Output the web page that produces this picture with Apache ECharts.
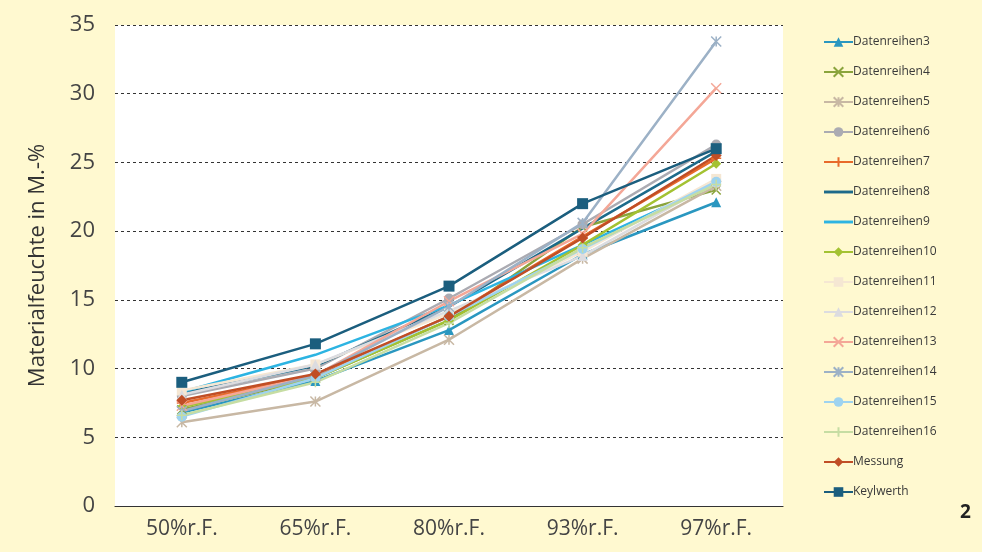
<!DOCTYPE html>
<html>
<head>
<meta charset="utf-8">
<script src="https://cdn.jsdelivr.net/npm/echarts@6/dist/echarts.min.js"></script>
<style>
  html, body { margin: 0; padding: 0; background: #FFF9D0; }
  #chart { width: 982px; height: 552px; }
</style>
</head>
<body>
<div id="chart"></div>
<script>
// Relative humidity steps (x axis)
const categories = ['50%r.F.', '65%r.F.', '80%r.F.', '93%r.F.', '97%r.F.'];

// Moisture content in M.-% for each series
const d3  = [6.8, 9.1, 12.8, 18.3, 22.1];
const d4  = [7.0, 9.3, 13.5, 20.3, 23.0];
const d5  = [6.1, 7.6, 12.1, 18.0, 23.3];
const d6  = [8.0, 10.0, 15.1, 20.5, 26.3];
const d7  = [7.5, 9.5, 13.8, 19.6, 25.3];
const d8  = [8.2, 10.2, 14.5, 20.2, 25.8];
const d9  = [8.3, 11.0, 14.6, 19.0, 23.5];
const d10 = [7.2, 9.3, 13.5, 19.0, 24.9];
const d11 = [8.4, 10.3, 14.0, 18.5, 23.8];
const d12 = [8.1, 10.3, 14.2, 18.2, 23.6];
const d13 = [7.3, 9.5, 14.9, 19.8, 30.4];
const d14 = [6.9, 9.5, 14.5, 20.6, 33.8];
const d15 = [6.5, 9.3, 13.8, 18.7, 23.6];
const d16 = [6.6, 9.0, 13.3, 18.8, 23.4];
const messung   = [7.7, 9.6, 13.8, 19.5, 25.5];
const keylwerth = [9.0, 11.8, 16.0, 22.0, 26.0];

const yTicks = { min: 0, max: 35, interval: 5 };

const xSymbol = 'path://M0,0 L10,10 M10,0 L0,10';
const starSymbol = 'path://M0,0 L10,10 M10,0 L0,10 M5,0 L5,10';
const plusSymbol = 'path://M5,0 L5,10 M0,5 L10,5';
const plainLineIcon = 'path://M0,0 L30,0 L30,3 L0,3 Z';

const seriesDefs = [
  { name: 'Datenreihen3',  data: d3,  color: '#2A97C0', symbol: 'triangle', size: 10 },
  { name: 'Datenreihen4',  data: d4,  color: '#8AA43C', symbol: xSymbol, size: 9, stroke: true },
  { name: 'Datenreihen5',  data: d5,  color: '#C8B8A4', symbol: starSymbol, size: 10, stroke: true },
  { name: 'Datenreihen6',  data: d6,  color: '#ABABB2', symbol: 'circle', size: 10 },
  { name: 'Datenreihen7',  data: d7,  color: '#E86A2A', symbol: plusSymbol, size: 10, stroke: true },
  { name: 'Datenreihen8',  data: d8,  color: '#1D6A8A', symbol: 'none', size: 0 },
  { name: 'Datenreihen9',  data: d9,  color: '#2DB4E2', symbol: 'none', size: 0 },
  { name: 'Datenreihen10', data: d10, color: '#A3C232', symbol: 'diamond', size: 10 },
  { name: 'Datenreihen11', data: d11, color: '#F5E7D3', symbol: 'rect', size: 10 },
  { name: 'Datenreihen12', data: d12, color: '#DCDCE0', symbol: 'triangle', size: 10 },
  { name: 'Datenreihen13', data: d13, color: '#F4A797', symbol: xSymbol, size: 10, stroke: true },
  { name: 'Datenreihen14', data: d14, color: '#9CB1C6', symbol: starSymbol, size: 10, stroke: true },
  { name: 'Datenreihen15', data: d15, color: '#9ED3F0', symbol: 'circle', size: 10 },
  { name: 'Datenreihen16', data: d16, color: '#C6DDA3', symbol: plusSymbol, size: 10, stroke: true },
  { name: 'Messung',       data: messung,   color: '#C04E26', symbol: 'diamond', size: 11 },
  { name: 'Keylwerth',     data: keylwerth, color: '#1B5E7E', symbol: 'rect', size: 11 }
];

const chart = echarts.init(document.getElementById('chart'), null, { renderer: 'canvas' });

const series = seriesDefs.map(s => ({
  name: s.name,
  type: 'line',
  data: s.data,
  symbol: s.symbol,
  symbolSize: s.size,
  showSymbol: s.symbol !== 'none',
  lineStyle: { color: s.color, width: 2.5 },
  itemStyle: s.stroke
    ? { color: 'rgba(0,0,0,0)', borderColor: s.color, borderWidth: 1.5 }
    : { color: s.color, borderWidth: 0 },
  emphasis: { disabled: true },
  animation: false
}));

const legendData = seriesDefs.map(s => s.symbol === 'none'
  ? { name: s.name, icon: plainLineIcon, itemStyle: { color: s.color } }
  : { name: s.name });

chart.setOption({
  backgroundColor: '#FFF9D0',
  animation: false,
  textStyle: { fontFamily: 'Open Sans' },
  grid: {
    left: 115, right: 199, top: 25, bottom: 46,
    show: true, backgroundColor: '#FFFFFF', borderWidth: 0
  },
  legend: {
    orient: 'vertical',
    left: 818, top: 31,
    itemGap: 18,
    itemWidth: 29, itemHeight: 12,
    textStyle: { fontSize: 12, color: '#3a3a3a', fontFamily: 'Open Sans', padding: [0, 0, 0, -5] },
    data: legendData
  },
  xAxis: {
    type: 'category',
    data: categories,
    boundaryGap: true,
    axisLine: { lineStyle: { color: '#333', width: 1.2 } },
    axisTick: { show: false },
    axisLabel: { fontSize: 21, color: '#444', margin: 13, fontFamily: 'Open Sans' },
    splitLine: { show: false }
  },
  yAxis: {
    type: 'value',
    min: yTicks.min, max: yTicks.max, interval: yTicks.interval,
    name: 'Materialfeuchte in M.-%',
    nameLocation: 'middle',
    nameGap: 66,
    nameTextStyle: { fontSize: 22, color: '#333', fontFamily: 'Open Sans' },
    axisLine: { show: false },
    axisTick: { show: false },
    axisLabel: { fontSize: 22, color: '#444', margin: 20, fontFamily: 'Open Sans' },
    splitLine: { lineStyle: { color: '#333', type: [3, 3], width: 1 } }
  },
  graphic: [
    {
      type: 'text',
      left: 960, top: 503,
      style: { text: '2', font: 'bold 19px "Open Sans"', fill: '#222' }
    }
  ],
  series: series
});
</script>
</body>
</html>
